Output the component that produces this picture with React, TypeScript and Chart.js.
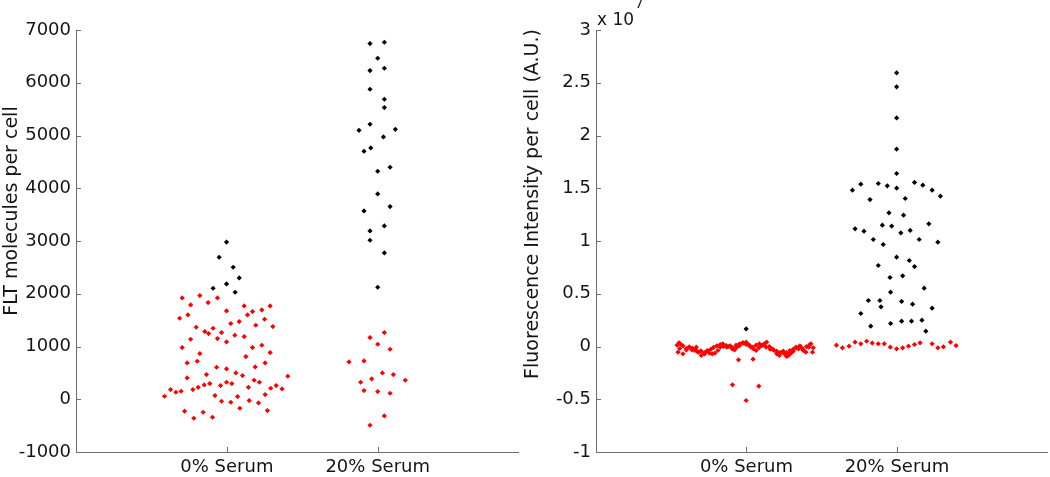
import React, { useEffect, useRef } from "react";
import { Chart, registerables } from "chart.js";

Chart.register(...registerables);

// ---------- data ----------
const categories = ["0% Serum", "20% Serum"];

// Left panel: FLT molecules per cell
const flt0RedX = [0.704,0.821,0.938,0.876,0.760,1.115,1.287,1.232,1.170,0.998,1.137,0.687,0.742,1.250,1.082,1.026,1.192,1.305,0.797,0.909,0.854,0.879,0.965,1.053,1.115,0.938,0.760,0.998,1.232,1.170,0.704,1.287,0.821,1.126,0.737,0.804,1.254,1.188,0.932,0.998,1.060,0.865,1.104,1.404,0.737,1.181,1.216,0.998,1.033,0.887,0.850,0.958,0.810,0.775,1.143,1.291,1.327,1.366,0.627,0.662,0.697,0.587,0.921,1.071,1.254,0.965,1.026,1.148,1.210,1.086,1.269,0.720,0.843,0.781,0.905];
const flt0RedY = [1920,1965,1920,1832,1788,1769,1769,1693,1662,1674,1599,1536,1599,1517,1472,1434,1403,1377,1365,1346,1283,1245,1264,1213,1188,1150,1137,1087,1024,979,979,885,866,809,689,720,689,613,607,575,499,468,449,436,404,360,322,322,297,297,272,259,227,183,227,209,259,196,183,133,152,57,70,51,89,-38,-57,-25,-70,-171,-215,-227,-246,-360,-341];
const flt0BlackX = [0.998,0.949,1.042,1.082,0.909,0.998,1.055];
const flt0BlackY = [2980,2692,2502,2300,2104,2186,2028];
const flt20BlackX = [1.949,2.044,2.000,1.949,2.044,1.949,2.044,2.044,1.949,1.876,2.117,2.038,1.954,1.909,2.082,2.000,2.000,2.082,1.909,2.044,1.949,1.949,2.044,2.000];
const flt20BlackY = [6743,6768,6464,6231,6275,5877,5687,5529,5213,5099,5118,4973,4764,4701,4398,4322,3892,3653,3570,3286,3191,3014,2774,2123];
const flt20RedX = [2.044,1.949,2.000,2.082,1.810,1.909,2.031,2.104,1.960,2.183,1.887,1.909,2.000,2.082,2.044,1.949];
const flt20RedY = [1264,1169,1043,948,708,727,499,467,385,360,322,164,145,114,-316,-493];
const fltTicks = [-1000,0,1000,2000,3000,4000,5000,6000,7000];

// Right panel: Fluorescence intensity per cell (x 10^7)
const fi0RedX = [0.552,0.567,0.545,0.578,0.601,0.618,0.640,0.656,0.667,0.684,0.700,0.722,0.737,0.755,0.773,0.790,0.810,0.826,0.843,0.866,0.883,0.905,0.921,0.936,0.954,0.976,0.998,1.015,1.031,1.046,1.064,1.082,1.099,1.119,1.134,1.152,1.170,1.185,1.201,1.219,1.236,1.252,1.267,1.280,1.296,1.311,1.329,1.346,1.362,1.377,1.395,1.413,1.428,1.439,0.947,1.044,0.907,1.082,0.998,
  0.539,0.556,0.578,0.600,0.622,0.638,0.660,0.675,0.697,0.720,0.742,0.764,0.781,0.803,0.826,0.848,0.870,0.892,0.909,0.931,0.954,0.976,0.998,1.020,1.042,1.064,1.086,1.108,1.130,1.157,1.179,1.201,1.223,1.245,1.267,1.289,1.311,1.333,1.355,1.377,1.399,1.422,1.444];
const fi0RedY = [0.035,0.016,-0.054,-0.069,-0.032,-0.006,-0.016,-0.038,-0.006,-0.054,-0.085,-0.069,-0.044,-0.063,-0.069,-0.063,-0.038,-0.006,0.025,0.009,0,-0.022,-0.032,-0.006,0.009,0.031,0.041,0.019,-0.006,-0.022,-0.038,-0.013,0.009,0.025,0.041,0,-0.022,-0.038,-0.069,-0.085,-0.054,-0.069,-0.095,-0.085,-0.063,-0.044,-0.006,-0.022,-0.006,-0.038,-0.054,-0.006,0.025,-0.054,-0.126,-0.120,-0.363,-0.376,-0.512,
  0.013,-0.019,0.006,-0.019,-0.006,-0.032,-0.025,-0.050,-0.041,-0.057,-0.038,-0.025,-0.009,0.006,0.019,0,-0.006,0.006,-0.013,0.013,0.025,0.038,0.019,0.006,-0.006,0.013,0.025,0.013,-0.006,-0.025,-0.032,-0.044,-0.057,-0.044,-0.057,-0.038,-0.025,-0.013,0.006,-0.025,0,0.019,-0.013];
const fi0BlackX = [0.998];
const fi0BlackY = [0.167];
const fi20BlackX = [1.998,1.998,1.998,1.998,1.998,1.704,1.760,1.876,1.936,1.998,2.117,2.172,2.234,2.289,1.821,2.055,1.947,2.044,1.722,1.781,1.903,1.965,2.026,2.088,2.212,1.843,1.909,2.148,2.272,1.998,2.082,2.117,1.876,1.954,2.038,2.181,1.958,1.810,1.887,1.894,2.031,2.104,2.234,1.760,1.826,1.958,2.031,2.097,2.166,2.192];
const fi20BlackY = [2.594,2.461,2.167,1.870,1.640,1.482,1.539,1.545,1.523,1.501,1.555,1.529,1.482,1.425,1.393,1.403,1.267,1.245,1.115,1.093,1.150,1.141,1.077,1.100,1.163,1.014,0.967,1.014,0.989,0.847,0.815,0.758,0.768,0.654,0.670,0.553,0.515,0.436,0.436,0.376,0.427,0.401,0.363,0.313,0.193,0.218,0.240,0.240,0.250,0.145];
const fi20RedX = [1.598,1.638,1.682,1.722,1.760,1.799,1.836,1.876,1.916,1.956,1.998,2.038,2.077,2.117,2.154,2.234,2.272,2.309,2.356,2.393];
const fi20RedY = [0.013,-0.013,0.003,0.041,0.025,0.050,0.032,0.025,0.025,-0.006,-0.022,-0.013,0.003,0.019,0.035,0.025,-0.013,-0.003,0.041,0.009];
const fiTicks = [-1,-0.5,0,0.5,1,1.5,2,2.5,3];

// ---------- style ----------
const FONT = "'DejaVu Sans', sans-serif";
const TEXT = "#151515";
const AXIS = "#6e6e6e";
const RED = "rgb(255,0,0)";
const BLACK = "rgb(0,0,0)";
const TICK_SIZE = 18;
const TITLE_SIZE = 19;

const zip = (xs: number[], ys: number[]) => xs.map((x, i) => ({ x, y: ys[i] }));

const matlabAxes = {
  id: "matlabAxes",
  afterDraw(chart: any, _args: any, opts: any) {
    const { ctx, chartArea, scales } = chart;
    const xs = scales.x;
    const ys = scales.y;
    ctx.save();
    ctx.strokeStyle = AXIS;
    ctx.lineWidth = 1;
    ctx.beginPath();
    ys.ticks.forEach((t: any) => {
      const py = Math.round(ys.getPixelForValue(t.value)) + 0.5;
      ctx.moveTo(chartArea.left, py);
      ctx.lineTo(chartArea.left + 5, py);
    });
    xs.ticks.forEach((t: any) => {
      const px = Math.round(xs.getPixelForValue(t.value)) + 0.5;
      ctx.moveTo(px, chartArea.bottom);
      ctx.lineTo(px, chartArea.bottom - 5);
    });
    ctx.stroke();

    ctx.fillStyle = TEXT;
    ctx.font = `${TITLE_SIZE}px ${FONT}`;
    ctx.save();
    ctx.translate(opts.titleX, opts.titleY);
    ctx.rotate(-Math.PI / 2);
    ctx.textAlign = "center";
    ctx.textBaseline = "middle";
    ctx.fillText(opts.title, 0, 0);
    ctx.restore();

    if (opts.exponent) {
      ctx.textAlign = "left";
      ctx.textBaseline = "alphabetic";
      ctx.font = `17px ${FONT}`;
      const bx = chartArea.left + 1;
      ctx.fillText("x 10", bx, 25);
      const w = ctx.measureText("x 10").width;
      ctx.font = `13px ${FONT}`;
      ctx.fillText(opts.exponent, bx + w + 1, 8);
    }
    ctx.restore();
  },
};

type PanelProps = {
  left: number;
  width: number;
  datasets: { xs: number[]; ys: number[]; color: string }[];
  yMin: number;
  yMax: number;
  yTicks: number[];
  xMax: number;
  yAxisWidth: number;
  padRight: number;
  title: string;
  titleX: number;
  titleY: number;
  exponent?: string;
};

function Panel(p: PanelProps) {
  const ref = useRef<HTMLCanvasElement | null>(null);
  useEffect(() => {
    if (!ref.current) return;
    const chart = new Chart(ref.current, {
      type: "scatter",
      data: {
        datasets: p.datasets.map((d) => ({
          data: zip(d.xs, d.ys),
          backgroundColor: d.color,
          borderColor: d.color,
          borderWidth: 0,
          pointStyle: "rectRot",
          pointRadius: 2.6,
          pointHoverRadius: 2.6,
        })),
      },
      options: {
        responsive: false,
        animation: false,
        devicePixelRatio: 1,
        layout: { padding: { top: 30, right: p.padRight, left: 0, bottom: 0 } },
        plugins: {
          legend: { display: false },
          tooltip: { enabled: false },
          matlabAxes: {
            title: p.title,
            titleX: p.titleX,
            titleY: p.titleY,
            exponent: p.exponent,
          },
        } as any,
        scales: {
          x: {
            type: "linear",
            min: 0,
            max: p.xMax,
            afterBuildTicks: (s: any) => {
              s.ticks = categories.map((_, i) => ({ value: i + 1 }));
            },
            afterFit: (s: any) => {
              s.height = 25;
            },
            ticks: {
              autoSkip: false,
              padding: 5,
              color: TEXT,
              font: { family: FONT, size: TICK_SIZE },
              callback: (v: any) => categories[Math.round(Number(v)) - 1] ?? "",
            },
            grid: { display: true, drawOnChartArea: false, drawTicks: false },
            border: { display: true, color: AXIS, width: 1 },
          },
          y: {
            type: "linear",
            min: p.yMin,
            max: p.yMax,
            afterBuildTicks: (s: any) => {
              s.ticks = p.yTicks.map((v) => ({ value: v }));
            },
            afterFit: (s: any) => {
              s.width = p.yAxisWidth;
            },
            ticks: {
              autoSkip: false,
              padding: 5,
              color: TEXT,
              font: { family: FONT, size: TICK_SIZE },
              callback: (v: any) => String(Number(v)),
            },
            grid: { display: true, drawOnChartArea: false, drawTicks: false },
            border: { display: true, color: AXIS, width: 1 },
          },
        },
      },
      plugins: [matlabAxes],
    });
    return () => chart.destroy();
  }, []);
  return (
    <canvas
      ref={ref}
      width={p.width}
      height={477}
      style={{ position: "absolute", left: p.left, top: 0, width: p.width, height: 477 }}
    />
  );
}

export default function App() {
  return (
    <div style={{ position: "absolute", left: 0, top: 0, width: 1050, height: 477, background: "#fff", overflow: "hidden" }}>
      <Panel
        left={0}
        width={525}
        datasets={[
          { xs: flt0RedX, ys: flt0RedY, color: RED },
          { xs: flt0BlackX, ys: flt0BlackY, color: BLACK },
          { xs: flt20BlackX, ys: flt20BlackY, color: BLACK },
          { xs: flt20RedX, ys: flt20RedY, color: RED },
        ]}
        yMin={-1000}
        yMax={7000}
        yTicks={fltTicks}
        xMax={2.93}
        yAxisWidth={76}
        padRight={7}
        title="FLT molecules per cell"
        titleX={12.5}
        titleY={211}
      />
      <Panel
        left={515}
        width={535}
        datasets={[
          { xs: fi0RedX, ys: fi0RedY, color: RED },
          { xs: fi0BlackX, ys: fi0BlackY, color: BLACK },
          { xs: fi20BlackX, ys: fi20BlackY, color: BLACK },
          { xs: fi20RedX, ys: fi20RedY, color: RED },
        ]}
        yMin={-1}
        yMax={3}
        yTicks={fiTicks}
        xMax={3}
        yAxisWidth={81}
        padRight={0}
        title="Fluorescence Intensity per cell (A.U.)"
        titleX={18}
        titleY={204}
        exponent="7"
      />
    </div>
  );
}
